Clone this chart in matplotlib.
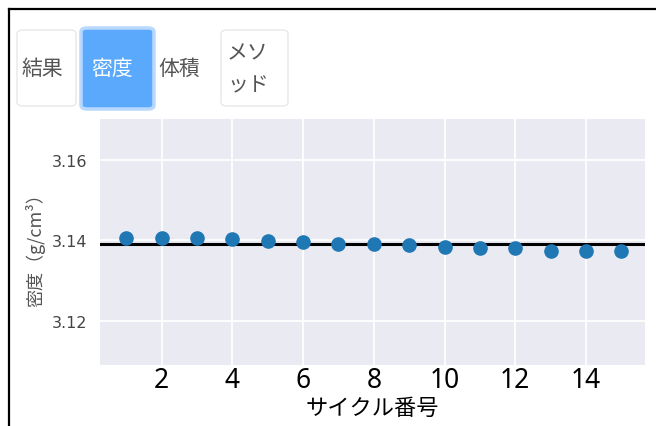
import numpy as np
import matplotlib
matplotlib.use("Agg")
import matplotlib.pyplot as plt
from matplotlib.patches import FancyBboxPatch
from matplotlib.lines import Line2D

plt.rcParams['font.family'] = ['Noto Sans CJK JP', 'DejaVu Sans']

# density per cycle (g/cm^3)
cycles = np.arange(1, 16)
density = [3.1406, 3.1407, 3.1406, 3.1404, 3.1399, 3.1395, 3.1390, 3.1390,
           3.1389, 3.1384, 3.1380, 3.1382, 3.1374, 3.1374, 3.1374]
xticks = [2, 4, 6, 8, 10, 12, 14]
yticks = [3.12, 3.14, 3.16]
tabs = ["結果", "密度", "体積", "メソ\nッド"]
active_tab = "密度"

W, H = 656, 427
fig = plt.figure(figsize=(W / 100, H / 100), dpi=100)


def box(x0, y0, x1, y1):
    # pixel box (top-left origin) -> figure fraction
    return x0 / W, 1 - y1 / H, (x1 - x0) / W, (y1 - y0) / H


# outer frame
fig.add_artist(Line2D([8.5 / W, 8.5 / W], [0, 1 - 10 / H], color="black", lw=1.6,
                      transform=fig.transFigure))
fig.add_artist(Line2D([8.5 / W, 1], [1 - 10 / H, 1 - 10 / H], color="black", lw=1.6,
                      transform=fig.transFigure))

# tab buttons: (box in px, left x of label in px)
tab_boxes = [(17, 31, 76, 107), (81, 29, 154, 110), (155, 31, 219, 107), (221, 31, 288, 107)]
text_left = [22, 91, 158, 227]
for label, (x0, y0, x1, y1), tx in zip(tabs, tab_boxes, text_left):
    bx, by, bw, bh = box(x0, y0, x1, y1)
    if label == active_tab:
        fig.add_artist(FancyBboxPatch((bx, by), bw, bh, boxstyle="round,pad=0,rounding_size=0.009",
                                      transform=fig.transFigure, facecolor="#5aa9fc",
                                      edgecolor="#b8d9fd", lw=2.5))
        color = "white"
    else:
        if label != "体積":
            fig.add_artist(FancyBboxPatch((bx, by), bw, bh, boxstyle="round,pad=0,rounding_size=0.009",
                                          transform=fig.transFigure, facecolor="white",
                                          edgecolor="#e8e8e8", lw=1.0))
        color = "#555555"
    fig.text(tx / W, 1 - 69 / H, label, ha="left", va="center", fontsize=15,
             color=color, linespacing=1.6)

ax = fig.add_axes(box(100, 120, 645, 366))
ax.set_facecolor("#eaeaf2")
for s in ax.spines.values():
    s.set_visible(False)
ax.grid(True, color="white", lw=1.3)
ax.set_axisbelow(True)

ax.axhline(np.mean(density), color="black", lw=2.2, zorder=2)
ax.plot(cycles, density, "o", color="#1f77b4", ms=9.5, zorder=3)

ax.set_xlim(0.255, 15.67)
ax.set_ylim(3.1090, 3.1702)
ax.set_xticks(xticks)
ax.set_yticks(yticks)
ax.set_yticklabels([f"{v:.2f}" for v in yticks], family="DejaVu Sans", fontsize=11.5,
                   color="#444444")
ax.set_xticklabels([str(v) for v in xticks], family="Noto Sans", fontsize=19,
                   color="black")
ax.tick_params(axis="both", length=0)
ax.tick_params(axis="y", pad=9)
ax.tick_params(axis="x", pad=1)

ax.set_xlabel("サイクル番号", fontsize=16, color="black")
ax.xaxis.set_label_coords(0.5, -0.125)
ax.set_ylabel("密度（g/cm³）", fontsize=13, color="#555555")
ax.yaxis.set_label_coords(-0.1, 0.49)

fig.savefig("out.png", dpi=100, facecolor="white")
